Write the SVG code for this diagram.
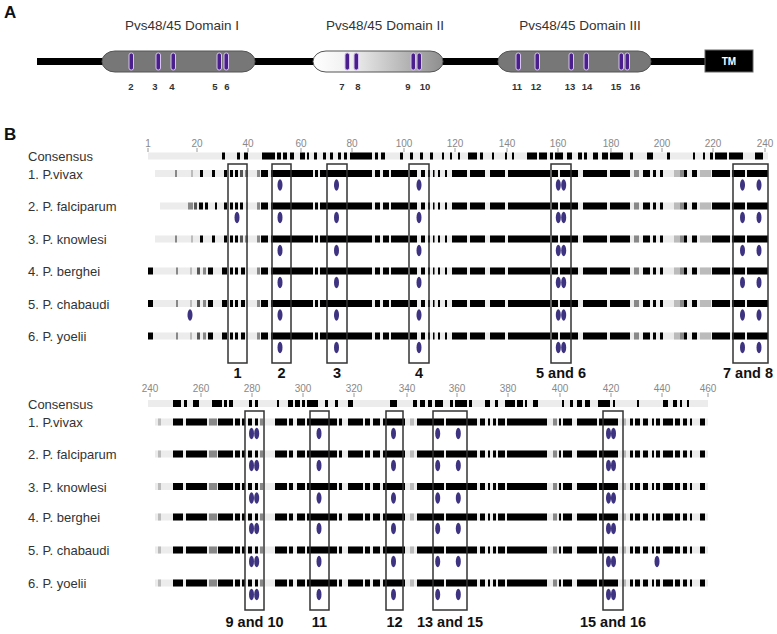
<svg xmlns="http://www.w3.org/2000/svg" xmlns:xlink="http://www.w3.org/1999/xlink" width="777" height="634" viewBox="0 0 777 634">
<style>
text{font-family:"Liberation Sans",Arial,sans-serif}
.pl{font-size:17px;font-weight:bold;fill:#111}
.dt{font-size:13.5px;fill:#333;text-anchor:middle}
.cn{font-size:9.5px;font-weight:bold;fill:#333;text-anchor:middle}
.sp{font-size:13px;fill:#333}
.rn{font-size:10px;fill:#888;text-anchor:middle}
.bl{font-size:14.5px;font-weight:bold;fill:#111;text-anchor:middle}
.tick{stroke:#999;stroke-width:1}
.cys{fill:#4a1e8c;stroke:#d7c3f0;stroke-width:1}
.dom{stroke:#555;stroke-width:1}
.box{fill:none;stroke:#333;stroke-width:1.5}
.bg{stroke:#ececec;stroke-width:7;fill:none}
.k{stroke:#000;stroke-width:7;fill:none}
.g1{stroke:#555;stroke-width:7;fill:none}
.g2{stroke:#888;stroke-width:7;fill:none}
.g3{stroke:#bbb;stroke-width:7;fill:none}
</style>
<defs>
<linearGradient id="d2" x1="0" x2="1" y1="0" y2="0">
<stop offset="0" stop-color="#ffffff"/><stop offset="0.3" stop-color="#eeeeee"/><stop offset="1" stop-color="#8e8e8e"/>
</linearGradient>
<filter id="sb" x="-0.05" y="-0.5" width="1.1" height="2"><feGaussianBlur stdDeviation="0.7 0.25"/></filter>
<ellipse id="ov" cx="0" cy="0" rx="2.5" ry="5.8" fill="#3d3380"/>
<g id="topRow">
<path class="k" d="M261 0H268M271 0H313M315 0H318M320 0H372M375 0H380M383 0H389M391 0H408M410 0H417M421 0H425M428 0H430M433 0H434.5M438 0H440M445 0H447M452 0H467M470 0H485M490 0H505M508 0H550M552 0H558M560 0H578M583 0H607M610 0H630M643 0H650M653 0H656M660 0H663M684 0H687M692 0H697M712 0H730M732 0H745M747 0H768"/>
<path class="g2" d="M634 0H639M680 0H684M257 0H260"/>
<path class="g3" d="M700 0H711M674 0H680"/>
</g>
<g id="botRow">
<path class="bg" d="M155 0H708"/>
<path class="k" d="M173 0H183M186 0H207M218 0H233M235 0H240M242 0H245M248 0H252M255 0H258M275 0H287M289 0H293M297 0H305M307 0H337M339 0H342M348 0H363M365 0H370M373 0H380M383 0H405M417 0H444M446 0H477M480 0H485M488 0H490M493 0H496M498 0H505M507 0H547M559 0H561M563 0H572M577 0H597M599 0H618M630 0H633M635 0H640M643 0H648M652 0H654M656 0H660M663 0H673M675 0H680M683 0H687M690 0H692M700 0H705"/>
<path class="g2" d="M209 0H217M553 0H557M260 0H263"/>
<path class="g3" d="M158 0H161M623 0H626M410 0H414"/>
</g>
<g id="leftA">
<path class="bg" d="M155 0H768"/>
<path class="g2" d="M175 0H177"/><path class="g3" d="M191 0H193"/>
<path class="k" d="M200 0H203M212 0H215M224 0H227M230 0H233M235 0H238"/>
<path class="g1" d="M240 0H243"/><path class="g2" d="M245 0H248"/>
</g>
<g id="leftB">
<path class="bg" d="M160 0H768"/>
<path class="g2" d="M188 0H193"/><path class="g1" d="M194 0H197"/>
<path class="k" d="M199 0H203M205 0H208M215 0H217M224 0H227M230 0H233M235 0H238M240 0H243"/>
<path class="g3" d="M246 0H248M257 0H260"/>
</g>
<g id="leftC">
<path class="bg" d="M153 0H768"/>
<path class="k" d="M148 0H153M208 0H213M222 0H227M230 0H233M235 0H238M241 0H245"/>
<path class="g2" d="M176 0H178M203 0H206"/><path class="g3" d="M190 0H192"/><path class="g1" d="M197 0H200"/>
</g>
</defs>

<g id="panelA">
<text class="pl" x="4" y="18">A</text>
<text class="dt" x="182" y="30">Pvs48/45 Domain I</text>
<text class="dt" x="385" y="30">Pvs48/45 Domain II</text>
<text class="dt" x="580" y="30">Pvs48/45 Domain III</text>
<line x1="37" y1="61.5" x2="706" y2="61.5" stroke="#000" stroke-width="7"/>
<g id="domain1"><path class="dom" fill="#777" d="M115 51H242A13 10.5 0 0 1 242 72H115A13 10.5 0 0 1 115 51Z"/></g>
<g id="domain2"><path class="dom" fill="url(#d2)" d="M326 51H430A13 10.5 0 0 1 430 72H326A13 10.5 0 0 1 326 51Z"/></g>
<g id="domain3"><path class="dom" fill="#777" d="M511 51H638A13 10.5 0 0 1 638 72H511A13 10.5 0 0 1 511 51Z"/></g>
<g id="tm"><rect x="705" y="50" width="48" height="22" fill="#000" stroke="#666" stroke-width="1"/><text x="729" y="65" font-size="10" font-weight="bold" fill="#fff" text-anchor="middle">TM</text></g>
<g id="cysteines">
<rect class="cys" x="129" y="53" width="4.5" height="17" rx="2"/>
<rect class="cys" x="156" y="53" width="4.5" height="17" rx="2"/>
<rect class="cys" x="171" y="53" width="4.5" height="17" rx="2"/>
<rect class="cys" x="217" y="53" width="4.5" height="17" rx="2"/>
<rect class="cys" x="224" y="53" width="4.5" height="17" rx="2"/>
<rect class="cys" x="345" y="53" width="4.5" height="17" rx="2"/>
<rect class="cys" x="354" y="53" width="4.5" height="17" rx="2"/>
<rect class="cys" x="411" y="53" width="4.5" height="17" rx="2"/>
<rect class="cys" x="417" y="53" width="4.5" height="17" rx="2"/>
<rect class="cys" x="516" y="53" width="4.5" height="17" rx="2"/>
<rect class="cys" x="535" y="53" width="4.5" height="17" rx="2"/>
<rect class="cys" x="569" y="53" width="4.5" height="17" rx="2"/>
<rect class="cys" x="584" y="53" width="4.5" height="17" rx="2"/>
<rect class="cys" x="619" y="53" width="4.5" height="17" rx="2"/>
<rect class="cys" x="625" y="53" width="4.5" height="17" rx="2"/>
</g>
<g id="cysnums">
<text class="cn" x="131" y="90">2</text><text class="cn" x="155" y="90">3</text><text class="cn" x="172" y="90">4</text>
<text class="cn" x="215" y="90">5</text><text class="cn" x="227" y="90">6</text><text class="cn" x="342" y="90">7</text>
<text class="cn" x="358" y="90">8</text><text class="cn" x="408" y="90">9</text><text class="cn" x="425" y="90">10</text>
<text class="cn" x="517" y="90">11</text><text class="cn" x="536" y="90">12</text><text class="cn" x="570" y="90">13</text>
<text class="cn" x="587" y="90">14</text><text class="cn" x="616" y="90">15</text><text class="cn" x="635" y="90">16</text>
</g>
</g>

<g id="panelB">
<text class="pl" x="4" y="140">B</text>

<g id="topBlock">
<g id="ruler1">
<text class="rn" x="148" y="147">1</text><text class="rn" x="197" y="147">20</text><text class="rn" x="248" y="147">40</text>
<text class="rn" x="301" y="147">60</text><text class="rn" x="352" y="147">80</text><text class="rn" x="404" y="147">100</text>
<text class="rn" x="455" y="147">120</text><text class="rn" x="507" y="147">140</text><text class="rn" x="558" y="147">160</text>
<text class="rn" x="611" y="147">180</text><text class="rn" x="662" y="147">200</text><text class="rn" x="713" y="147">220</text>
<text class="rn" x="765" y="147">240</text>
<path class="tick" d="M148 148V152M197 148V152M248 148V152M301 148V152M352 148V152M404 148V152M455 148V152M507 148V152M558 148V152M611 148V152M662 148V152M713 148V152M765 148V152"/>
</g>
<g id="labels1">
<text class="sp" x="28" y="161">Consensus</text>
<text class="sp" x="28" y="178.5">1. P.vivax</text>
<text class="sp" x="28" y="211">2. P. falciparum</text>
<text class="sp" x="28" y="244">3. P. knowlesi</text>
<text class="sp" x="28" y="276">4. P. berghei</text>
<text class="sp" x="28" y="308.5">5. P. chabaudi</text>
<text class="sp" x="28" y="341">6. P. yoelii</text>
</g>
<g id="bars1" filter="url(#sb)">
<g transform="translate(0,156)">
<path class="bg" d="M148 0H768"/>
<path class="k" d="M222 0H225M237 0H240M244 0H248M262 0H275M277 0H281M283 0H287M290 0H294M300 0H305M307 0H309M314 0H317M323 0H326M330 0H333M338 0H341M344 0H347M350 0H372M375 0H378M381 0H385M400 0H403M410 0H413M420 0H423M430 0H433M442 0H444M450 0H452M458 0H460M468 0H477M480 0H483M492 0H494M505 0H507M512 0H514M527 0H537M539 0H547M550 0H553M555 0H563M567 0H572M578 0H582M584 0H587M593 0H598M602 0H608M610 0H623M630 0H633M647 0H653M667 0H670M693 0H695M703 0H705M710 0H713M715 0H727M729 0H743M755 0H763"/>
</g>
<use xlink:href="#leftA" y="173.5"/><use xlink:href="#topRow" y="173.5"/>
<use xlink:href="#leftB" y="206"/><use xlink:href="#topRow" y="206"/>
<use xlink:href="#leftA" y="239"/><use xlink:href="#topRow" y="239"/>
<use xlink:href="#leftC" y="271"/><use xlink:href="#topRow" y="271"/>
<use xlink:href="#leftC" y="303.5"/><use xlink:href="#topRow" y="303.5"/>
<use xlink:href="#leftC" y="336"/><use xlink:href="#topRow" y="336"/>
</g>
<g id="ovals1">
<use xlink:href="#ov" x="237" y="217.5"/>
<use xlink:href="#ov" x="190" y="315"/>
<use xlink:href="#ov" x="280" y="185"/><use xlink:href="#ov" x="280" y="217.5"/><use xlink:href="#ov" x="280" y="250.5"/><use xlink:href="#ov" x="280" y="282.5"/><use xlink:href="#ov" x="280" y="315"/><use xlink:href="#ov" x="280" y="347.5"/>
<use xlink:href="#ov" x="336.5" y="185"/><use xlink:href="#ov" x="336.5" y="217.5"/><use xlink:href="#ov" x="336.5" y="250.5"/><use xlink:href="#ov" x="336.5" y="282.5"/><use xlink:href="#ov" x="336.5" y="315"/><use xlink:href="#ov" x="336.5" y="347.5"/>
<use xlink:href="#ov" x="419" y="185"/><use xlink:href="#ov" x="419" y="217.5"/><use xlink:href="#ov" x="419" y="250.5"/><use xlink:href="#ov" x="419" y="282.5"/><use xlink:href="#ov" x="419" y="315"/><use xlink:href="#ov" x="419" y="347.5"/>
<use xlink:href="#ov" x="558.3" y="185"/><use xlink:href="#ov" x="558.3" y="217.5"/><use xlink:href="#ov" x="558.3" y="250.5"/><use xlink:href="#ov" x="558.3" y="282.5"/><use xlink:href="#ov" x="558.3" y="315"/><use xlink:href="#ov" x="558.3" y="347.5"/>
<use xlink:href="#ov" x="563.7" y="185"/><use xlink:href="#ov" x="563.7" y="217.5"/><use xlink:href="#ov" x="563.7" y="250.5"/><use xlink:href="#ov" x="563.7" y="282.5"/><use xlink:href="#ov" x="563.7" y="315"/><use xlink:href="#ov" x="563.7" y="347.5"/>
<use xlink:href="#ov" x="742.5" y="185"/><use xlink:href="#ov" x="742.5" y="217.5"/><use xlink:href="#ov" x="742.5" y="250.5"/><use xlink:href="#ov" x="742.5" y="282.5"/><use xlink:href="#ov" x="742.5" y="315"/><use xlink:href="#ov" x="742.5" y="347.5"/>
<use xlink:href="#ov" x="759" y="185"/><use xlink:href="#ov" x="759" y="217.5"/><use xlink:href="#ov" x="759" y="250.5"/><use xlink:href="#ov" x="759" y="282.5"/><use xlink:href="#ov" x="759" y="315"/><use xlink:href="#ov" x="759" y="347.5"/>
</g>
<g id="boxes1">
<rect class="box" x="228" y="164" width="19" height="199"/>
<rect class="box" x="272" y="164" width="19" height="199"/>
<rect class="box" x="327" y="164" width="20" height="199"/>
<rect class="box" x="409" y="164" width="20" height="199"/>
<rect class="box" x="551" y="164" width="20" height="199"/>
<rect class="box" x="733" y="164" width="35" height="199"/>
</g>
<g id="boxlabels1">
<text class="bl" x="237.5" y="378">1</text>
<text class="bl" x="281.5" y="378">2</text>
<text class="bl" x="337" y="378">3</text>
<text class="bl" x="419" y="378">4</text>
<text class="bl" x="561" y="378">5 and 6</text>
<text class="bl" x="748" y="378">7 and 8</text>
</g>
</g>

<g id="bottomBlock">
<g id="ruler2">
<text class="rn" x="150" y="392">240</text><text class="rn" x="201" y="392">260</text><text class="rn" x="252" y="392">280</text>
<text class="rn" x="303" y="392">300</text><text class="rn" x="354" y="392">320</text><text class="rn" x="407" y="392">340</text>
<text class="rn" x="457" y="392">360</text><text class="rn" x="508" y="392">380</text><text class="rn" x="560" y="392">400</text>
<text class="rn" x="611" y="392">420</text><text class="rn" x="662" y="392">440</text><text class="rn" x="708" y="392">460</text>
<path class="tick" d="M150 393V397M201 393V397M252 393V397M303 393V397M354 393V397M407 393V397M457 393V397M508 393V397M560 393V397M611 393V397M662 393V397M708 393V397"/>
</g>
<g id="labels2">
<text class="sp" x="28" y="408.5">Consensus</text>
<text class="sp" x="28" y="427">1. P.vivax</text>
<text class="sp" x="28" y="459">2. P. falciparum</text>
<text class="sp" x="28" y="491.5">3. P. knowlesi</text>
<text class="sp" x="28" y="522">4. P. berghei</text>
<text class="sp" x="28" y="555">5. P. chabaudi</text>
<text class="sp" x="28" y="588">6. P. yoelii</text>
</g>
<g id="bars2" filter="url(#sb)">
<g transform="translate(0,403.5)">
<path class="bg" d="M148 0H708"/>
<path class="k" d="M173 0H181M184 0H187M193 0H199M212 0H222M224 0H227M229 0H233M249 0H252M255 0H258M277 0H279M288 0H293M295 0H300M302 0H305M307 0H318M325 0H328M335 0H338M348 0H353M390 0H397M413 0H417M420 0H425M428 0H432M435 0H443M450 0H453M455 0H467M469 0H472M485 0H490M495 0H498M505 0H515M517 0H523M525 0H527M533 0H538M562 0H564M570 0H573M577 0H582M585 0H590M598 0H610M613 0H615M637 0H639M663 0H668M673 0H677M680 0H682M687 0H689"/>
</g>
<use xlink:href="#botRow" y="422"/>
<use xlink:href="#botRow" y="454"/>
<use xlink:href="#botRow" y="486.5"/>
<use xlink:href="#botRow" y="517"/>
<use xlink:href="#botRow" y="550"/>
<use xlink:href="#botRow" y="583"/>
</g>
<g id="ovals2">
<use xlink:href="#ov" x="657" y="561.5"/>
<use xlink:href="#ov" x="251.5" y="433.5"/><use xlink:href="#ov" x="251.5" y="465.5"/><use xlink:href="#ov" x="251.5" y="498"/><use xlink:href="#ov" x="251.5" y="528.5"/><use xlink:href="#ov" x="251.5" y="561.5"/><use xlink:href="#ov" x="251.5" y="594.5"/>
<use xlink:href="#ov" x="256.7" y="433.5"/><use xlink:href="#ov" x="256.7" y="465.5"/><use xlink:href="#ov" x="256.7" y="498"/><use xlink:href="#ov" x="256.7" y="528.5"/><use xlink:href="#ov" x="256.7" y="561.5"/><use xlink:href="#ov" x="256.7" y="594.5"/>
<use xlink:href="#ov" x="319" y="433.5"/><use xlink:href="#ov" x="319" y="465.5"/><use xlink:href="#ov" x="319" y="498"/><use xlink:href="#ov" x="319" y="528.5"/><use xlink:href="#ov" x="319" y="561.5"/><use xlink:href="#ov" x="319" y="594.5"/>
<use xlink:href="#ov" x="393.5" y="433.5"/><use xlink:href="#ov" x="393.5" y="465.5"/><use xlink:href="#ov" x="393.5" y="498"/><use xlink:href="#ov" x="393.5" y="528.5"/><use xlink:href="#ov" x="393.5" y="561.5"/><use xlink:href="#ov" x="393.5" y="594.5"/>
<use xlink:href="#ov" x="437.7" y="433.5"/><use xlink:href="#ov" x="437.7" y="465.5"/><use xlink:href="#ov" x="437.7" y="498"/><use xlink:href="#ov" x="437.7" y="528.5"/><use xlink:href="#ov" x="437.7" y="561.5"/><use xlink:href="#ov" x="437.7" y="594.5"/>
<use xlink:href="#ov" x="458.3" y="433.5"/><use xlink:href="#ov" x="458.3" y="465.5"/><use xlink:href="#ov" x="458.3" y="498"/><use xlink:href="#ov" x="458.3" y="528.5"/><use xlink:href="#ov" x="458.3" y="561.5"/><use xlink:href="#ov" x="458.3" y="594.5"/>
<use xlink:href="#ov" x="608.5" y="433.5"/><use xlink:href="#ov" x="608.5" y="465.5"/><use xlink:href="#ov" x="608.5" y="498"/><use xlink:href="#ov" x="608.5" y="528.5"/><use xlink:href="#ov" x="608.5" y="561.5"/><use xlink:href="#ov" x="608.5" y="594.5"/>
<use xlink:href="#ov" x="613.5" y="433.5"/><use xlink:href="#ov" x="613.5" y="465.5"/><use xlink:href="#ov" x="613.5" y="498"/><use xlink:href="#ov" x="613.5" y="528.5"/><use xlink:href="#ov" x="613.5" y="561.5"/><use xlink:href="#ov" x="613.5" y="594.5"/>
</g>
<g id="boxes2">
<rect class="box" x="245" y="411" width="19" height="199"/>
<rect class="box" x="310" y="411" width="19" height="199"/>
<rect class="box" x="386" y="411" width="17" height="199"/>
<rect class="box" x="433" y="411" width="34" height="199"/>
<rect class="box" x="603" y="411" width="20" height="199"/>
</g>
<g id="boxlabels2">
<text class="bl" x="254.5" y="627">9 and 10</text>
<text class="bl" x="319.5" y="627">11</text>
<text class="bl" x="394.5" y="627">12</text>
<text class="bl" x="450" y="627">13 and 15</text>
<text class="bl" x="613" y="627">15 and 16</text>
</g>
</g>
</g>
</svg>
